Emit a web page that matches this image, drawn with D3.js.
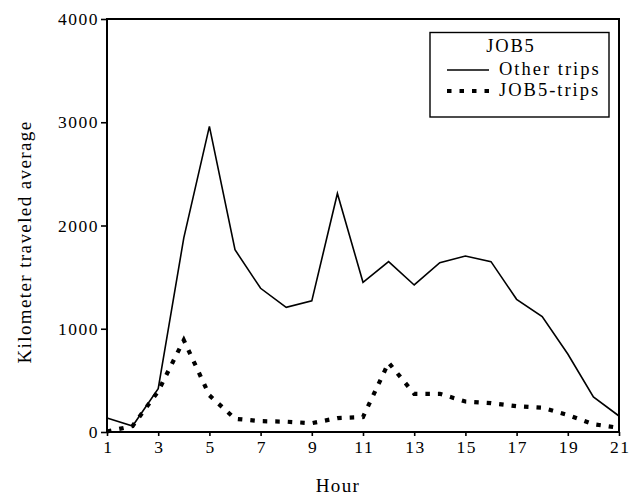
<!DOCTYPE html>
<html>
<head>
<meta charset="utf-8">
<script src="https://cdn.jsdelivr.net/npm/d3@7"></script>
<style>
  html, body { margin: 0; padding: 0; background: #fff; }
  svg { display: block; }
  text { font-family: "Liberation Serif", "Times New Roman", serif; fill: #000; }
</style>
</head>
<body>
<svg id="chart" width="629" height="496"></svg>
<script>
// Average kilometres travelled per hour of the day
const hours = [1, 2, 3, 4, 5, 6, 7, 8, 9, 10, 11, 12, 13, 14, 15, 16, 17, 18, 19, 20, 21];
const otherTrips = [135, 58, 420, 1880, 2960, 1765, 1392, 1208, 1270, 2310, 1450, 1650, 1424, 1640, 1705, 1650, 1285, 1117, 755, 340, 155];
const job5Trips = [5, 58, 395, 890, 355, 128, 105, 100, 85, 135, 145, 672, 370, 370, 295, 280, 250, 235, 165, 75, 40];
const xTicks = [1, 3, 5, 7, 9, 11, 13, 15, 17, 19, 21];
const yTicks = [0, 1000, 2000, 3000, 4000];
const legendTitle = "JOB5";
const seriesNames = ["Other trips", "JOB5-trips"];

const FONT = '"Liberation Serif", "Times New Roman", serif';
const svg = d3.select("#chart");
const x0 = 107, x1 = 619, y0 = 432, y1 = 19;

const x = d3.scaleLinear().domain([1, 21]).range([x0, x1]);
const y = d3.scaleLinear().domain([0, 4000]).range([y0, y1]);

// axes
const xAxis = svg.append("g").attr("transform", `translate(0,${y0})`)
  .call(d3.axisBottom(x).tickValues(xTicks).tickSize(4).tickPadding(5).tickSizeOuter(0));
const yAxis = svg.append("g").attr("transform", `translate(${x0},0)`)
  .call(d3.axisLeft(y).tickValues(yTicks).tickSize(6).tickPadding(2).tickSizeOuter(0).tickFormat(d3.format("d")));
[xAxis, yAxis].forEach(g => {
  g.select(".domain").remove();
  g.selectAll(".tick line").attr("stroke", "#000").attr("stroke-width", 1.6);
  g.selectAll(".tick text")
    .style("font-family", FONT).style("font-size", "17.5px").style("letter-spacing", "1.5px")
    .attr("fill", "#000");
});
xAxis.selectAll(".tick text").attr("dx", "0.75px");

// frame around the plot area
svg.append("rect")
  .attr("x", x0).attr("y", y1)
  .attr("width", x1 - x0).attr("height", y0 - y1)
  .attr("fill", "none").attr("stroke", "#000").attr("stroke-width", 2);

// series lines
const line = (vals) => d3.line().x((d, i) => x(hours[i])).y(d => y(d))(vals);

svg.append("path")
  .attr("d", line(otherTrips))
  .attr("fill", "none").attr("stroke", "#000").attr("stroke-width", 1.6)
  .attr("stroke-linejoin", "miter");

svg.append("path")
  .attr("d", line(job5Trips))
  .attr("fill", "none").attr("stroke", "#000").attr("stroke-width", 4.2)
  .attr("stroke-dasharray", "4.5,8").attr("stroke-linecap", "butt");

// axis titles
svg.append("text")
  .attr("x", 338).attr("y", 492)
  .attr("text-anchor", "middle")
  .style("font-size", "19px").style("letter-spacing", "1.4px")
  .text("Hour");

svg.append("text")
  .attr("transform", "translate(31,242) rotate(-90)")
  .attr("text-anchor", "middle")
  .style("font-size", "19px").style("letter-spacing", "1.4px")
  .text("Kilometer traveled average");

// legend
const lg = svg.append("g");
lg.append("rect")
  .attr("x", 430).attr("y", 32.5).attr("width", 179).attr("height", 84.5)
  .attr("fill", "#fff").attr("stroke", "#000").attr("stroke-width", 1.4);
lg.append("text")
  .attr("x", 511).attr("y", 52).attr("text-anchor", "middle")
  .style("font-size", "18.5px").style("letter-spacing", "1.8px")
  .text(legendTitle);
lg.append("line")
  .attr("x1", 447).attr("x2", 489).attr("y1", 70).attr("y2", 70)
  .attr("stroke", "#000").attr("stroke-width", 1.6);
lg.append("line")
  .attr("x1", 447).attr("x2", 491).attr("y1", 91).attr("y2", 91)
  .attr("stroke", "#000").attr("stroke-width", 4.2).attr("stroke-dasharray", "4.5,8");
lg.append("text")
  .attr("x", 499).attr("y", 74.5)
  .style("font-size", "18.5px").style("letter-spacing", "2px")
  .text(seriesNames[0]);
lg.append("text")
  .attr("x", 499).attr("y", 95.5)
  .style("font-size", "18.5px").style("letter-spacing", "2px")
  .text(seriesNames[1]);
</script>
</body>
</html>
